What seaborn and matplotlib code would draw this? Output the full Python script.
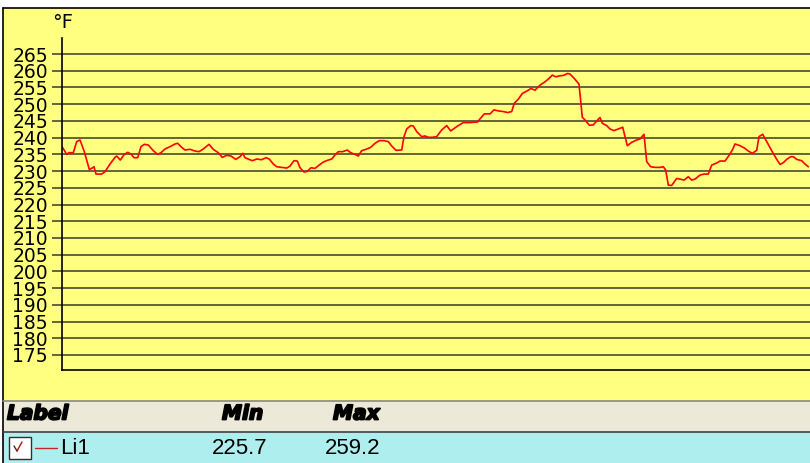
import matplotlib
matplotlib.use("Agg")
import matplotlib.pyplot as plt
import matplotlib.patheffects as pe
import seaborn as sns
import pandas as pd
from matplotlib.patches import Rectangle
from matplotlib.lines import Line2D

# ---- data ----
time_s = [0, 4.7, 7, 11.3, 14.7, 18, 22.3, 27.3, 29.7, 32, 34, 39.7, 43, 48, 53, 54.7,
          58.3, 62.3, 65.7, 69, 72, 75.7, 79, 82.3, 86.3, 91.3, 95.7, 99, 103, 108, 113,
          115.7, 119, 123, 128, 133, 137, 141.3, 147, 151.3, 156.3, 160.3, 164.7, 169,
          173.7, 178, 180.7, 183, 186.3, 190.3, 194.7, 199.7, 204, 207.3, 211.3, 214.7,
          219.7, 224.7, 228, 232, 235.3, 238, 242, 245.3, 249, 253, 256.3, 261.3, 265.3,
          269.7, 273, 276.3, 280.7, 285.3, 288.7, 293, 296.3, 299.7, 304, 308.7, 313,
          317.3, 322, 326.3, 329.7, 334, 339.7, 342, 344.7, 348.7, 351.3, 354.7, 359.7,
          363, 366.3, 370.3, 374.7, 379.7, 384.7, 388.7, 394.7, 401.3, 408, 415.7, 418,
          422.3, 428, 432, 436.3, 441.3, 445.7, 449.7, 452.3, 456.3, 460.3, 464.7, 469,
          473, 478, 483, 487, 490.3, 493.7, 498, 501.3, 505.7, 508, 512.3, 517, 520.3,
          523, 527.3, 531.3, 534.7, 538, 540.3, 544.7, 548, 552, 556.3, 560.7, 563,
          565.3, 569.7, 574.7, 578, 582, 584.7, 588.7, 593, 598, 601.3, 603.7, 606.3,
          609.7, 614.7, 618, 622, 626.3, 629.7, 633, 638, 642, 646.3, 649.7, 654, 658,
          663, 667.3, 670.7, 673, 678, 682.3, 686.3, 690.3, 694.7, 697, 700.7, 704.7,
          709.7, 713.7, 718, 721.3, 724.7, 728.7, 731.3, 734.7, 739.7, 743, 746.3]
temp_f = [237.3, 235.0, 235.5, 235.5, 238.8, 239.3, 235.8, 230.5, 230.8, 231.3, 229.1,
          229.1, 229.8, 232.1, 234.1, 234.5, 233.3, 235.0, 235.6, 235.1, 234.0, 234.0,
          237.3, 238.0, 237.8, 236.1, 235.0, 235.5, 236.6, 237.3, 238.1, 238.3, 237.3,
          236.3, 236.5, 236.0, 235.8, 236.6, 238.0, 236.5, 235.5, 234.1, 234.7, 234.5,
          233.5, 234.3, 235.3, 234.0, 233.6, 233.1, 233.6, 233.4, 234.0, 233.6, 232.1,
          231.3, 231.1, 230.9, 231.5, 233.1, 233.0, 231.0, 229.7, 229.9, 231.0, 230.8,
          231.6, 232.7, 233.2, 233.6, 234.8, 235.8, 235.8, 236.3, 235.5, 235.0, 234.5,
          236.1, 236.5, 237.1, 238.3, 239.1, 239.1, 238.8, 237.5, 236.2, 236.3, 240.3,
          242.6, 243.6, 243.5, 241.8, 240.3, 240.5, 240.1, 240.1, 240.3, 242.3, 243.6,
          242.0, 243.3, 244.5, 244.5, 244.7, 245.6, 247.1, 247.1, 248.3, 248.0, 247.8,
          247.5, 247.8, 250.3, 251.5, 253.2, 253.9, 254.7, 254.2, 255.7, 256.7, 257.7,
          258.7, 258.2, 258.5, 258.6, 259.2, 259.0, 257.7, 256.0, 246.1, 245.3, 243.7,
          243.8, 245.0, 246.0, 244.3, 243.6, 242.6, 242.1, 242.6, 243.1, 240.3, 237.6,
          238.6, 239.3, 239.6, 241.0, 232.8, 231.3, 231.1, 231.1, 231.3, 230.3, 225.8,
          225.7, 227.8, 227.6, 227.3, 228.3, 227.3, 227.6, 228.8, 229.1, 229.1, 231.8,
          232.3, 233.0, 233.0, 234.8, 236.5, 238.1, 237.6, 236.9, 236.0, 235.3, 236.2,
          240.3, 241.0, 238.8, 236.1, 234.0, 232.0, 232.5, 233.5, 234.3, 234.3, 233.5,
          233.1, 232.1, 231.3]
y_ticks = list(range(175, 270, 5))
unit_label = "°F"
series_label = "Li1"
min_label = "225.7"
max_label = "259.2"
header_labels = ["Label", "Min", "Max"]

df = pd.DataFrame({"t": time_s, "temp": temp_f})

sns.set_style("white")
plt.rcParams["font.family"] = ["DejaVu Sans"]
plt.rcParams["text.color"] = "black"

W, H = 810, 463
fig = plt.figure(figsize=(W / 100, H / 100), dpi=100)
fig.patch.set_facecolor("white")

# background / frame drawn in pixel coordinates
bg = fig.add_axes([0, 0, 1, 1], zorder=-1)
bg.set_xlim(0, W)
bg.set_ylim(H, 0)
bg.axis("off")
bg.add_patch(Rectangle((2.5, 7.5), W, 393, facecolor="#FFFF80", edgecolor="none"))
bg.add_patch(Rectangle((2.5, 400.5), W, 31, facecolor="#ECE9D8", edgecolor="none"))
bg.add_patch(Rectangle((2.5, 431.5), W, 32, facecolor="#AFEEEE", edgecolor="none"))
bg.add_line(Line2D([2.5, W], [7.5, 7.5], color="black", lw=1.2))
bg.add_line(Line2D([2.5, 2.5], [7.5, H], color="black", lw=1.2))
bg.add_line(Line2D([2.5, W], [400.5, 400.5], color="#8a8a80", lw=1.2))
bg.add_line(Line2D([2.5, W], [431.5, 431.5], color="#404040", lw=1.2))

# table text
heavy = [pe.withStroke(linewidth=1.3, foreground="black")]
hfont = dict(family="DejaVu Sans", weight="bold", style="italic", size=14.5,
             color="black", path_effects=heavy)
bg.text(7, 414, header_labels[0], va="center", ha="left", **hfont)
bg.text(222, 414, header_labels[1], va="center", ha="left", **hfont)
bg.text(333, 414, header_labels[2], va="center", ha="left", **hfont)
rfont = dict(family="Liberation Sans", size=16, color="black")
bg.add_patch(Rectangle((8.5, 436.5), 22, 22, facecolor="white", edgecolor="#303030", lw=1.0))
bg.add_line(Line2D([14, 17], [446, 451], color="#303030", lw=1.0))
bg.add_line(Line2D([17, 22], [451, 442], color="#cc0000", lw=1.0))
bg.add_line(Line2D([35, 57], [448, 448], color="#c02828", lw=1.0))
bg.text(60, 448, series_label, va="center", ha="left", **rfont)
bg.text(212, 448, min_label, va="center", ha="left", **rfont)
bg.text(325, 448, max_label, va="center", ha="left", **rfont)

# main plot axes
left, right, top, bottom = 62, 812, 38, 370
ax = fig.add_axes([left / W, 1 - bottom / H, (right - left) / W, (bottom - top) / H])
ax.set_facecolor("none")
sns.lineplot(data=df, x="t", y="temp", ax=ax, color="#FF0000", linewidth=1.2)
ax.set_xlim(0, 750)
ax.set_ylim(170.5, 269.8)
ax.set_yticks(y_ticks)
ax.set_yticklabels([str(v) for v in y_ticks])
ax.set_xticks([])
ax.set_xlabel("")
ax.set_ylabel("")
for v in y_ticks:
    ax.axhline(v, color="#3a3a2a", lw=1.1, zorder=0)
for s in ["top", "right"]:
    ax.spines[s].set_visible(False)
for s in ["left", "bottom"]:
    ax.spines[s].set_color("black")
    ax.spines[s].set_linewidth(1.2)
ax.tick_params(axis="y", direction="out", length=7, width=1.1, color="#3a3a2a",
               pad=3, labelsize=13.5, left=True, labelcolor="black")
bg.text(63, 23, unit_label, ha="center", va="center", fontsize=14, color="black")

fig.savefig("out.png", dpi=100)
